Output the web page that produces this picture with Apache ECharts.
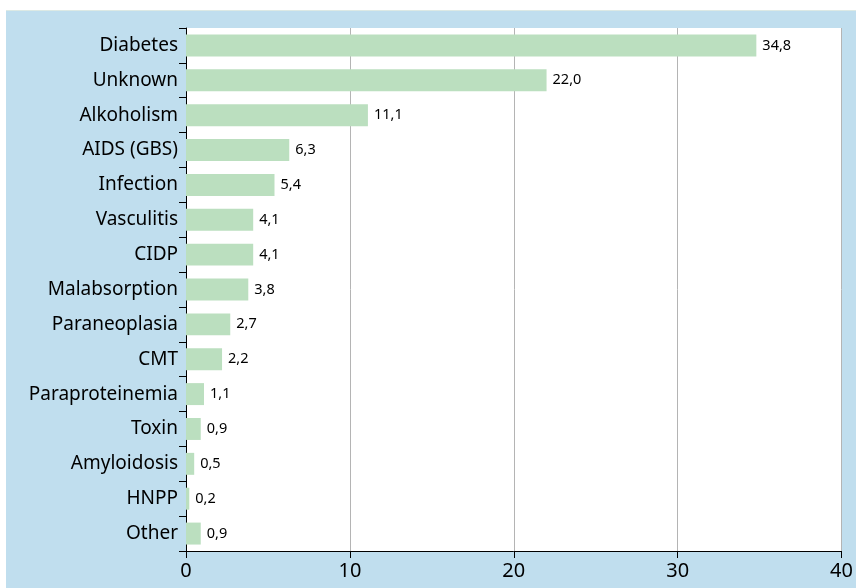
<!DOCTYPE html>
<html>
<head>
<meta charset="utf-8">
<script src="https://cdn.jsdelivr.net/npm/echarts@6/dist/echarts.min.js"></script>
<style>
  html, body { margin: 0; padding: 0; background: #ffffff; }
  #wrap { position: relative; width: 856px; height: 588px; background: #ffffff; }
  #bg { position: absolute; left: 6px; top: 10px; right: 0; bottom: 0; background: #c0deee; border-top: 1px solid #dce9e4; }
  #chart { position: absolute; left: 0; top: 0; width: 856px; height: 588px; }
</style>
</head>
<body>
<div id="wrap">
  <div id="bg"></div>
  <div id="chart"></div>
</div>
<script>
const categories = ["Diabetes", "Unknown", "Alkoholism", "AIDS (GBS)", "Infection", "Vasculitis", "CIDP", "Malabsorption", "Paraneoplasia", "CMT", "Paraproteinemia", "Toxin", "Amyloidosis", "HNPP", "Other"];
const values = [34.8, 22.0, 11.1, 6.3, 5.4, 4.1, 4.1, 3.8, 2.7, 2.2, 1.1, 0.9, 0.5, 0.2, 0.9];
const xTicks = [0, 10, 20, 30, 40];

const chart = echarts.init(document.getElementById('chart'), null, { renderer: 'canvas' });
const fontFamily = '"Noto Sans", "Open Sans", sans-serif';
chart.setOption({
  backgroundColor: 'transparent',
  animation: false,
  grid: {
    left: 186, right: 11, top: 28, bottom: 37,
    show: true, backgroundColor: '#ffffff', borderWidth: 0
  },
  xAxis: {
    type: 'value',
    min: xTicks[0], max: xTicks[xTicks.length - 1], interval: 10,
    axisLine: { show: true, onZero: false, lineStyle: { color: '#000', width: 1 } },
    axisTick: { show: true, inside: false, length: 7, lineStyle: { color: '#000' } },
    axisLabel: { color: '#000', fontSize: 20, fontFamily: fontFamily, margin: 10, showMaxLabel: true },
    splitLine: { show: true, lineStyle: { color: '#b4b4b4', width: 1 } }
  },
  yAxis: {
    type: 'category',
    data: categories,
    inverse: true,
    axisLine: { show: true, lineStyle: { color: '#000', width: 1 } },
    axisTick: { show: true, inside: false, length: 7, alignWithLabel: false, lineStyle: { color: '#000' } },
    axisLabel: { color: '#000', fontSize: 19, fontFamily: fontFamily, margin: 8 },
    splitLine: { show: false }
  },
  series: [{
    type: 'bar',
    data: values,
    barWidth: '63%',
    itemStyle: { color: '#bbdfbf' },
    label: {
      show: true,
      position: 'right',
      distance: 6,
      color: '#000',
      fontSize: 14.5,
      fontFamily: fontFamily,
      formatter: p => p.value.toFixed(1).replace('.', ',')
    }
  }]
});
</script>
</body>
</html>
